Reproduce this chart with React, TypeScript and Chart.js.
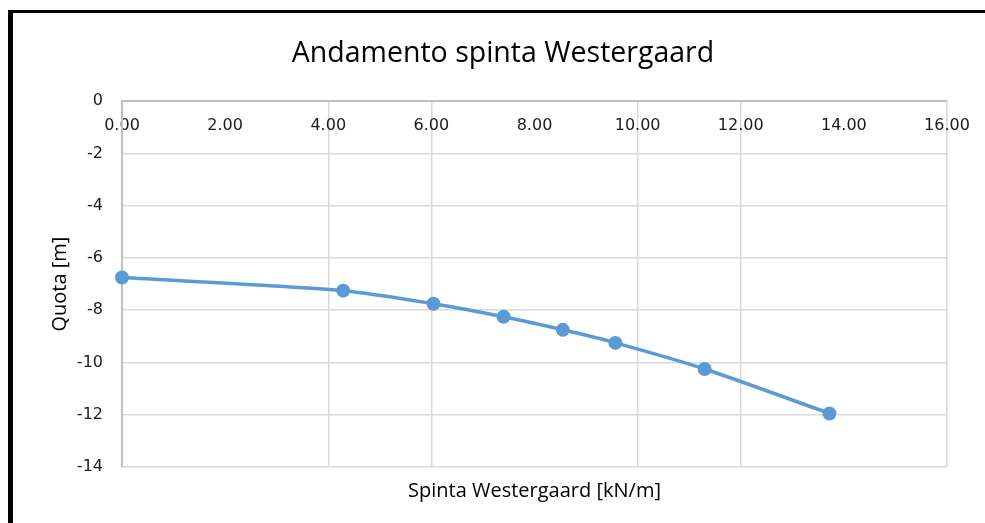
import React, { useEffect, useRef } from "react";
import { Chart, registerables } from "chart.js";

Chart.register(...registerables);

const titleText = "Andamento spinta Westergaard";
const xAxisTitle = "Spinta Westergaard [kN/m]";
const yAxisTitle = "Quota [m]";

// Spinta Westergaard [kN/m]
const spinta = [0.0, 4.29, 6.04, 7.4, 8.55, 9.57, 11.3, 13.72];
// Quota [m]
const quota = [-6.75, -7.25, -7.75, -8.25, -8.75, -9.25, -10.25, -11.95];

const xMin = 0;
const xMax = 16;
const xStep = 2;
const yMin = -14;
const yMax = 0;
const yStep = 2;
// vertical gridlines not visible in the reference
const hiddenXGrid = [2, 8, 14];

const W = 972;
const H = 510;

export default function App() {
  const ref = useRef<HTMLCanvasElement | null>(null);

  useEffect(() => {
    if (!ref.current) return;
    const points = spinta.map((x, i) => ({ x, y: quota[i] }));
    const chart = new Chart(ref.current, {
      type: "scatter",
      data: {
        datasets: [
          {
            label: "Spinta",
            data: points,
            showLine: true,
            borderColor: "#5b9bd5",
            backgroundColor: "#5b9bd5",
            borderWidth: 3.5,
            pointRadius: 7,
            pointBorderWidth: 0,
            tension: 0.25,
            clip: false as any,
            xAxisID: "x",
            yAxisID: "y",
          },
        ],
      },
      options: {
        responsive: false,
        animation: false,
        layout: { padding: { left: 8, right: 0, top: 0, bottom: 0 } },
        plugins: {
          legend: { display: false },
          tooltip: { enabled: false },
          title: {
            display: true,
            text: titleText,
            color: "#000",
            font: { family: "'Open Sans'", size: 28.5, weight: "normal" },
            padding: { top: 24, bottom: 30 },
          },
        },
        scales: {
          x: {
            type: "linear",
            position: { y: 0 } as any,
            min: xMin,
            max: xMax,
            ticks: {
              stepSize: xStep,
              color: "#1a1a1a",
              padding: 15,
              font: { family: "'DejaVu Sans'", size: 16 },
              callback: (v: any) => Number(v).toFixed(2),
            },
            grid: {
              drawTicks: false,
              lineWidth: 1.5,
              color: (ctx: any) =>
                ctx.tick && hiddenXGrid.includes(ctx.tick.value)
                  ? "rgba(0,0,0,0)"
                  : "#d9d9d9",
            },
            border: { display: true, color: "#bfbfbf", width: 2 },
          },
          x2: {
            type: "linear",
            position: "bottom",
            min: xMin,
            max: xMax,
            ticks: { display: false },
            grid: { display: false, drawTicks: false },
            border: { display: false },
            title: {
              display: true,
              text: xAxisTitle,
              color: "#000",
              font: { family: "'Open Sans'", size: 20 },
              padding: { top: 0, bottom: 20 },
            },
            afterFit: (s: any) => {
              s.height = 56;
            },
          },
          y: {
            type: "linear",
            position: "left",
            min: yMin,
            max: yMax,
            ticks: {
              stepSize: yStep,
              color: "#1a1a1a",
              padding: 19,
              font: { family: "'DejaVu Sans'", size: 16 },
            },
            grid: {
              drawTicks: false,
              lineWidth: 1.5,
              color: "#d9d9d9",
            },
            border: { display: true, color: "#bfbfbf", width: 2 },
            title: {
              display: true,
              text: yAxisTitle,
              color: "#000",
              font: { family: "'Open Sans'", size: 20 },
              padding: { top: 27, bottom: 0 },
            },
            afterFit: (s: any) => {
              s.width = 101;
            },
          },
          y2: {
            type: "linear",
            position: "right",
            min: yMin,
            max: yMax,
            ticks: { display: false },
            grid: { display: false, drawTicks: false },
            border: { display: false },
            afterFit: (s: any) => {
              s.width = 38;
            },
          },
        },
      },
    });
    return () => chart.destroy();
  }, []);

  return (
    <div
      style={{
        position: "absolute",
        left: 8,
        top: 10,
        width: 977,
        height: 513,
        borderLeft: "5px solid #000",
        borderTop: "3px solid #000",
        boxSizing: "border-box",
        background: "#fff",
        overflow: "hidden",
      }}
    >
      <canvas ref={ref} width={W} height={H} style={{ display: "block" }} />
    </div>
  );
}
